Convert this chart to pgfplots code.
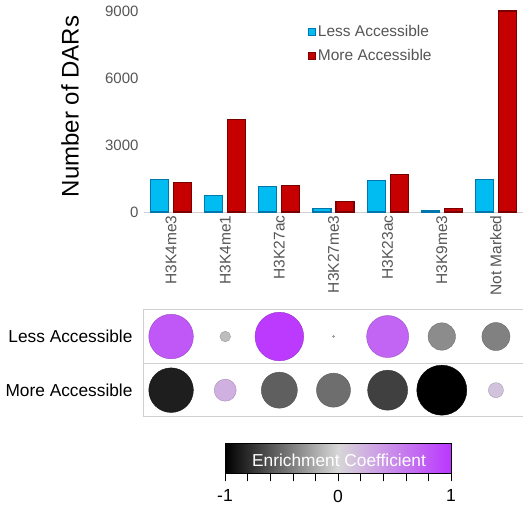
\documentclass[border=0pt]{standalone}
\usepackage{pgfplots}
\usepackage{pgfplotstable}
\pgfplotsset{compat=1.18}
\usepackage{fontspec}
\setmainfont{Liberation Sans}

\definecolor{lessfill}{RGB}{0,188,240}
\definecolor{lessedge}{RGB}{0,118,172}
\definecolor{morefill}{RGB}{198,0,0}
\definecolor{moreedge}{RGB}{122,0,0}
\definecolor{labgray}{RGB}{85,85,85}
\definecolor{gridgray}{RGB}{208,208,208}

% number of differentially accessible regions per mark
\pgfplotstableread{
x less more
0 1460 1330
1 750 4150
2 1150 1180
3 160 480
4 1410 1690
5 80 165
6 1460 9000
}\dars

% bubble radius (pt) and enrichment coefficient
\pgfplotstableread{
x y r c
0 1 22.3 0.80
1 1 5.3 -0.12
2 1 24.3 0.98
3 1 1.0 -0.15
4 1 21.0 0.72
5 1 13.7 -0.35
6 1 14.0 -0.40
0 0 22.3 -0.86
1 0 11.0 0.25
2 0 18.0 -0.56
3 0 17.0 -0.49
4 0 20.0 -0.70
5 0 25.0 -1.00
6 0 7.5 0.13
}\enrich

\pgfplotsset{
  enrichmap/.style={colormap={enrich}{rgb255=(0,0,0) rgb255=(215,215,215) rgb255=(186,55,255)}},
}

\begin{document}
\begin{tikzpicture}
\useasboundingbox (0pt,0pt) rectangle (523pt,507pt);

% bar chart
\begin{axis}[
  at={(144pt,295pt)}, anchor=south west,
  scale only axis, width=379pt, height=201pt,
  xmin=-0.5, xmax=6.5, ymin=0, ymax=9000,
  ybar=5pt, bar width=18pt,
  axis x line=bottom, axis y line=left,
  x axis line style={draw=gridgray, line width=1pt, -},
  y axis line style={draw=none},
  major tick length=0pt,
  xtick={0,...,6},
  xticklabels={H3K4me3,H3K4me1,H3K27ac,H3K27me3,H3K23ac,H3K9me3,Not Marked},
  xticklabel style={rotate=90, anchor=east, font=\fontsize{15.5}{18}\selectfont, text=labgray},
  ytick={0,3000,6000,9000},
  yticklabel style={font=\fontsize{15}{18}\selectfont, text=labgray, xshift=-2pt},
  /pgf/number format/1000 sep={},
  /pgf/number format/assume math mode=true,
  ylabel={Number of DARs},
  ylabel style={font=\fontsize{24}{28}\selectfont, at={(axis description cs:-0.195,0.525)}, anchor=center},
  legend cell align=left,
  legend style={at={(rel axis cs:0.433,0.94)}, anchor=north west, draw=none, fill=none,
    font=\fontsize{15.5}{18}\selectfont, text=labgray, row sep=7pt, inner sep=0pt},
  legend image code/.code={\draw[#1, line width=0.6pt] (0pt,-3.5pt) rectangle (7pt,3.5pt);},
  clip=false,
]
\addplot[fill=lessfill, draw=lessedge, line width=1.1pt] table[x=x, y=less] {\dars};
\addplot[fill=morefill, draw=moreedge, line width=1.1pt] table[x=x, y=more] {\dars};
\legend{Less Accessible, More Accessible}
\end{axis}

% bubble grid
\begin{axis}[
  at={(144pt,90pt)}, anchor=south west,
  scale only axis, width=379pt, height=107.3pt,
  xmin=-0.5, xmax=6.5, ymin=-0.5, ymax=1.5,
  xtick=\empty, ytick={0,1}, yticklabels={More Accessible, Less Accessible},
  minor xtick={0.5,1.5,2.5,3.5,4.5,5.5}, minor ytick={0.5},
  grid=minor, minor grid style={draw=gridgray, line width=1pt},
  axis line style={draw=gridgray, line width=1pt},
  major tick length=0pt, minor tick length=0pt,
  yticklabel style={font=\fontsize{17.3}{20}\selectfont, xshift=-8pt},
  enrichmap, point meta min=-1, point meta max=1,
  clip=false,
]
\addplot[scatter, only marks, mark=*, point meta=explicit,
  visualization depends on={\thisrow{r} \as \rad},
  scatter/@pre marker code/.append style={/tikz/mark size=\rad pt}]
  table[x=x, y=y, meta=c] {\enrich};
\end{axis}

% colour scale
\begin{axis}[
  at={(225pt,33.7pt)}, anchor=south west,
  scale only axis, width=226pt, height=30pt,
  xmin=-1, xmax=1, ymin=0, ymax=1,
  view={0}{90},
  enrichmap, point meta min=-1, point meta max=1,
  xtick={-1,0,1}, minor x tick num=4, ytick=\empty, ztick=\empty,
  xtick pos=left, tick align=outside,
  major tick length=8pt, minor tick length=8pt,
  tick style={black, line width=0.6pt},
  axis line style={black, line width=0.8pt},
  xticklabel style={font=\fontsize{17.5}{20}\selectfont, yshift=-5pt},
  /pgf/number format/assume math mode=true,
  axis on top,
]
\addplot3[surf, shader=interp, point meta=x, mesh/cols=5] coordinates {
(-1,0,0) (-0.5,0,0) (0,0,0) (0.5,0,0) (1,0,0)
(-1,1,0) (-0.5,1,0) (0,1,0) (0.5,1,0) (1,1,0)
};
\end{axis}
\node[text=white, font=\fontsize{17.3}{20}\selectfont] at (339pt,47pt) {Enrichment Coefficient};
\end{tikzpicture}
\end{document}
